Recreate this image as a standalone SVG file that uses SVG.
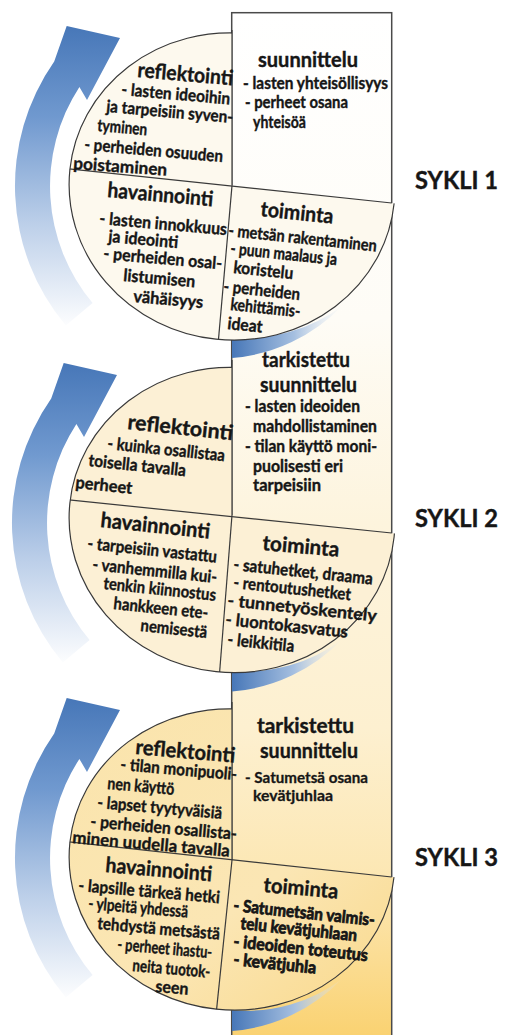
<svg xmlns="http://www.w3.org/2000/svg" width="505" height="1035" viewBox="0 0 505 1035">
<defs>
<style>
.t{font-family:Lato,"Open Sans","Liberation Sans",sans-serif;font-weight:700;fill:#161616;stroke:#161616;stroke-width:0.4}
.b{font-size:17px}
.h{font-size:21px}
.m{font-size:15.5px;stroke-width:0.3}
.s{font-size:24px;stroke-width:0.4}
.x{stroke-width:0.8}
.ol{stroke:#3a3a3a;stroke-width:1.2}
.dv{stroke:#3a3a3a;stroke-width:1.2;fill:none}
</style>
<linearGradient id="colG" gradientUnits="userSpaceOnUse" x1="0" y1="12" x2="0" y2="1035">
<stop offset="0" stop-color="#ffffff"/>
<stop offset="0.3" stop-color="#fefcf6"/>
<stop offset="0.5" stop-color="#fdf4dd"/>
<stop offset="0.7" stop-color="#fdf0d0"/>
<stop offset="0.86" stop-color="#fce6b0"/>
<stop offset="1" stop-color="#fad272"/>
</linearGradient>
<linearGradient id="arrG" gradientUnits="userSpaceOnUse" x1="0" y1="26" x2="0" y2="330">
<stop offset="0" stop-color="#4777b8"/>
<stop offset="0.3" stop-color="#7099cf"/>
<stop offset="0.65" stop-color="#bccfe9"/>
<stop offset="1" stop-color="#ffffff"/>
</linearGradient>
<linearGradient id="bandG" gradientUnits="userSpaceOnUse" x1="232" y1="0" x2="345" y2="0">
<stop offset="0" stop-color="#4777b8"/>
<stop offset="0.55" stop-color="#a5bfe0"/>
<stop offset="1" stop-color="#e6edf6" stop-opacity="0"/>
</linearGradient>
<linearGradient id="c3G" gradientUnits="userSpaceOnUse" x1="80" y1="710" x2="380" y2="1010">
<stop offset="0" stop-color="#fae4ac"/>
<stop offset="0.6" stop-color="#fbe6b4"/>
<stop offset="1" stop-color="#f9d98c"/>
</linearGradient>
<clipPath id="q1"><polygon points="0,0 232,0 232,185.6 505,215.4 505,400 0,400"/></clipPath>
<clipPath id="q2"><polygon points="0,340 232,340 232,515 505,546 505,700 0,700"/></clipPath>
<clipPath id="q3"><polygon points="0,680 232,680 232,860 505,889 505,1035 0,1035"/></clipPath>
<clipPath id="e1"><ellipse cx="232" cy="186.5" rx="163" ry="153.5" transform="rotate(6 232 186.5)"/></clipPath>
<clipPath id="e2"><ellipse cx="232" cy="520" rx="163" ry="152.5" transform="rotate(6 232 520)"/></clipPath>
<clipPath id="e3"><ellipse cx="232" cy="859.5" rx="163" ry="150.5" transform="rotate(6 232 859.5)"/></clipPath>
<path id="arrowShape" d="M 65.8 325.5 A 217 217 0 0 1 54.2 61.5 L 66.7 26 L 120 38 L 87 100 L 79.4 86.9 A 182 182 0 0 0 92.6 303 Z"/>
<path id="bandShape" d="M 232 358 A 172 172 0 0 0 342 306 A 158 158 0 0 1 232 337 Z"/>
</defs>

<rect width="505" height="1035" fill="#ffffff"/>

<g id="column">
<rect x="231.7" y="12.7" width="160" height="1030" fill="url(#colG)" stroke="#4a4a4a" stroke-width="1.5"/>
</g>

<g id="connectors">
<use href="#arrowShape" fill="url(#arrG)"/>
<use href="#arrowShape" fill="url(#arrG)" transform="translate(-3 337)"/>
<use href="#arrowShape" fill="url(#arrG)" transform="translate(0 672)"/>
<use href="#bandShape" fill="url(#bandG)"/>
<use href="#bandShape" fill="url(#bandG)" transform="translate(0 333.5)"/>
<use href="#bandShape" fill="url(#bandG)" transform="translate(0 673)"/>
</g>

<!-- CYCLE 1 -->
<g id="cycle1">
<g clip-path="url(#q1)">
<ellipse cx="232" cy="186.5" rx="163" ry="153.5" transform="rotate(6 232 186.5)" class="ol" fill="#fdf9ee"/>
</g>
<g clip-path="url(#e1)">
<line class="dv" x1="60" y1="168" x2="391.7" y2="203"/>
<line class="dv" x1="232" y1="185.6" x2="218" y2="345"/>
</g>
<line class="dv" x1="232" y1="30" x2="232" y2="185.6"/>
</g>

<g id="c1-suunnittelu" class="t">
<text class="h" x="258" y="67" textLength="100" lengthAdjust="spacingAndGlyphs">suunnittelu</text>
<text class="b" x="243" y="89" textLength="145" lengthAdjust="spacingAndGlyphs">- lasten yhteisöllisyys</text>
<text class="b" x="245" y="108" textLength="103" lengthAdjust="spacingAndGlyphs">- perheet osana</text>
<text class="b" x="253" y="128" textLength="53" lengthAdjust="spacingAndGlyphs">yhteisöä</text>
</g>
<g id="c1-reflektointi" class="t">
<text class="h" x="137" y="77" transform="rotate(5 137 77)" textLength="96" lengthAdjust="spacingAndGlyphs">reflektointi</text>
<text class="b" x="121" y="95" transform="rotate(5 121 95)" textLength="109" lengthAdjust="spacingAndGlyphs">- lasten ideoihin</text>
<text class="b" x="106" y="112" transform="rotate(5 106 112)" textLength="127" lengthAdjust="spacingAndGlyphs">ja tarpeisiin syven-</text>
<text class="b" x="97" y="131" transform="rotate(5 97 131)" textLength="50" lengthAdjust="spacingAndGlyphs">tyminen</text>
<text class="b" x="84" y="150" transform="rotate(5 84 150)" textLength="139" lengthAdjust="spacingAndGlyphs">- perheiden osuuden</text>
<text class="b" x="73" y="169" transform="rotate(4 73 169)" textLength="94" lengthAdjust="spacingAndGlyphs">poistaminen</text>
</g>
<g id="c1-havainnointi" class="t">
<text class="h" x="107" y="197" transform="rotate(5 107 197)" textLength="106" lengthAdjust="spacingAndGlyphs">havainnointi</text>
<text class="b" x="99" y="224" transform="rotate(5 99 224)" textLength="128" lengthAdjust="spacingAndGlyphs">- lasten innokkuus</text>
<text class="b" x="108" y="242" transform="rotate(5 108 242)" textLength="70" lengthAdjust="spacingAndGlyphs">ja ideointi</text>
<text class="b" x="103" y="259" transform="rotate(5 103 259)" textLength="119" lengthAdjust="spacingAndGlyphs">- perheiden osal-</text>
<text class="b" x="123" y="281" transform="rotate(5 123 281)" textLength="72" lengthAdjust="spacingAndGlyphs">listumisen</text>
<text class="b" x="133" y="302" transform="rotate(5 133 302)" textLength="70" lengthAdjust="spacingAndGlyphs">vähäisyys</text>
</g>
<g id="c1-toiminta" class="t">
<text class="h" x="260" y="216" transform="rotate(6 260 216)" textLength="73" lengthAdjust="spacingAndGlyphs">toiminta</text>
<text class="b" x="228" y="236" transform="rotate(6 228 236)" textLength="149" lengthAdjust="spacingAndGlyphs">- metsän rakentaminen</text>
<text class="b" x="230" y="254" transform="rotate(6 230 254)" textLength="107" lengthAdjust="spacingAndGlyphs">- puun maalaus ja</text>
<text class="b" x="233" y="273" transform="rotate(6 233 273)" textLength="60" lengthAdjust="spacingAndGlyphs">koristelu</text>
<text class="b" x="223" y="292" transform="rotate(6 223 292)" textLength="77" lengthAdjust="spacingAndGlyphs">- perheiden</text>
<text class="b" x="230" y="310" transform="rotate(6 230 310)" textLength="70" lengthAdjust="spacingAndGlyphs">kehittämis-</text>
<text class="b" x="227" y="329" transform="rotate(6 227 329)" textLength="35" lengthAdjust="spacingAndGlyphs">ideat</text>
</g>
<g id="label-sykli1" class="t"><text class="s" x="415" y="189" textLength="83" lengthAdjust="spacingAndGlyphs">SYKLI 1</text></g>

<!-- CYCLE 2 -->
<g id="cycle2">
<g clip-path="url(#q2)">
<ellipse cx="232" cy="520" rx="163" ry="152.5" transform="rotate(6 232 520)" class="ol" fill="#fcf0d5"/>
</g>
<g clip-path="url(#e2)">
<line class="dv" x1="60" y1="499" x2="391.7" y2="533"/>
<line class="dv" x1="232" y1="515" x2="219" y2="680"/>
</g>
<line class="dv" x1="232" y1="360" x2="232" y2="515"/>
</g>

<g id="c2-suunnittelu" class="t">
<text class="h" x="262" y="367" textLength="88" lengthAdjust="spacingAndGlyphs">tarkistettu</text>
<text class="h" x="260" y="392" textLength="97" lengthAdjust="spacingAndGlyphs">suunnittelu</text>
<text class="b" x="245" y="412" textLength="115" lengthAdjust="spacingAndGlyphs">- lasten ideoiden</text>
<text class="b" x="253" y="432" textLength="124" lengthAdjust="spacingAndGlyphs">mahdollistaminen</text>
<text class="b" x="245" y="452" textLength="132" lengthAdjust="spacingAndGlyphs">- tilan käyttö moni-</text>
<text class="b" x="253" y="472" textLength="90" lengthAdjust="spacingAndGlyphs">puolisesti eri</text>
<text class="b" x="253" y="491" textLength="68" lengthAdjust="spacingAndGlyphs">tarpeisiin</text>
</g>
<g id="c2-reflektointi" class="t">
<text class="h" x="127" y="429" transform="rotate(6 127 429)" textLength="106" lengthAdjust="spacingAndGlyphs">reflektointi</text>
<text class="b" x="107" y="449" transform="rotate(6 107 449)" textLength="118" lengthAdjust="spacingAndGlyphs">- kuinka osallistaa</text>
<text class="b" x="88" y="466" transform="rotate(6 88 466)" textLength="98" lengthAdjust="spacingAndGlyphs">toisella tavalla</text>
<text class="b" x="75" y="488" transform="rotate(6 75 488)" textLength="57" lengthAdjust="spacingAndGlyphs">perheet</text>
</g>
<g id="c2-havainnointi" class="t">
<text class="h" x="100" y="527" transform="rotate(6 100 527)" textLength="110" lengthAdjust="spacingAndGlyphs">havainnointi</text>
<text class="b" x="87" y="549" transform="rotate(6 87 549)" textLength="130" lengthAdjust="spacingAndGlyphs">- tarpeisiin vastattu</text>
<text class="b" x="92" y="570" transform="rotate(6 92 570)" textLength="125" lengthAdjust="spacingAndGlyphs">- vanhemmilla kui-</text>
<text class="b" x="103" y="589" transform="rotate(6 103 589)" textLength="113" lengthAdjust="spacingAndGlyphs">tenkin kiinnostus</text>
<text class="b" x="113" y="609" transform="rotate(6 113 609)" textLength="95" lengthAdjust="spacingAndGlyphs">hankkeen ete-</text>
<text class="b" x="140" y="631" transform="rotate(6 140 631)" textLength="67" lengthAdjust="spacingAndGlyphs">nemisestä</text>
</g>
<g id="c2-toiminta" class="t">
<text class="h" x="262" y="550" transform="rotate(5 262 550)" textLength="77" lengthAdjust="spacingAndGlyphs">toiminta</text>
<text class="b" x="233" y="570" transform="rotate(6 233 570)" textLength="140" lengthAdjust="spacingAndGlyphs">- satuhetket, draama</text>
<text class="b" x="233" y="588" transform="rotate(6 233 588)" textLength="118" lengthAdjust="spacingAndGlyphs">- rentoutushetket</text>
<text class="b" x="227" y="606" transform="rotate(6 227 606)" textLength="150" lengthAdjust="spacingAndGlyphs">- tunnetyöskentely</text>
<text class="b" x="225" y="625" transform="rotate(6 225 625)" textLength="123" lengthAdjust="spacingAndGlyphs">- luontokasvatus</text>
<text class="b" x="227" y="645" transform="rotate(6 227 645)" textLength="67" lengthAdjust="spacingAndGlyphs">- leikkitila</text>
</g>
<g id="label-sykli2" class="t"><text class="s" x="415" y="527" textLength="83" lengthAdjust="spacingAndGlyphs">SYKLI 2</text></g>

<!-- CYCLE 3 -->
<g id="cycle3">
<g clip-path="url(#q3)">
<ellipse cx="232" cy="859.5" rx="163" ry="150.5" transform="rotate(6 232 859.5)" class="ol" fill="url(#c3G)"/>
</g>
<g clip-path="url(#e3)">
<line class="dv" x1="60" y1="841" x2="391.7" y2="877"/>
<line class="dv" x1="232" y1="860" x2="216" y2="1015"/>
</g>
<line class="dv" x1="232" y1="702" x2="232" y2="860"/>
</g>

<g id="c3-suunnittelu" class="t">
<text class="h" x="257" y="733" textLength="97" lengthAdjust="spacingAndGlyphs">tarkistettu</text>
<text class="h" x="260" y="758" textLength="98" lengthAdjust="spacingAndGlyphs">suunnittelu</text>
<text class="m" x="245" y="783" textLength="123" lengthAdjust="spacingAndGlyphs">- Satumetsä osana</text>
<text class="m" x="253" y="801" textLength="80" lengthAdjust="spacingAndGlyphs">kevätjuhlaa</text>
</g>
<g id="c3-reflektointi" class="t">
<text class="h" x="135" y="754" transform="rotate(5 135 754)" textLength="100" lengthAdjust="spacingAndGlyphs">reflektointi</text>
<text class="b" x="120" y="770" transform="rotate(5 120 770)" textLength="117" lengthAdjust="spacingAndGlyphs">- tilan monipuoli-</text>
<text class="b" x="107" y="789" transform="rotate(5 107 789)" textLength="67" lengthAdjust="spacingAndGlyphs">nen käyttö</text>
<text class="b" x="97" y="808" transform="rotate(5 97 808)" textLength="125" lengthAdjust="spacingAndGlyphs">- lapset tyytyväisiä</text>
<text class="b" x="90" y="827" transform="rotate(5 90 827)" textLength="147" lengthAdjust="spacingAndGlyphs">- perheiden osallista-</text>
<text class="b" x="72" y="843" transform="rotate(5 72 843)" textLength="158" lengthAdjust="spacingAndGlyphs">minen uudella tavalla</text>
</g>
<g id="c3-havainnointi" class="t">
<text class="h" x="105" y="872" transform="rotate(5 105 872)" textLength="107" lengthAdjust="spacingAndGlyphs">havainnointi</text>
<text class="b" x="78" y="891" transform="rotate(5 78 891)" textLength="142" lengthAdjust="spacingAndGlyphs">- lapsille tärkeä hetki</text>
<text class="b" x="88" y="909" transform="rotate(5 88 909)" textLength="100" lengthAdjust="spacingAndGlyphs">- ylpeitä yhdessä</text>
<text class="b" x="97" y="929" transform="rotate(5 97 929)" textLength="123" lengthAdjust="spacingAndGlyphs">tehdystä metsästä</text>
<text class="b" x="117" y="950" transform="rotate(5 117 950)" textLength="95" lengthAdjust="spacingAndGlyphs">- perheet ihastu-</text>
<text class="b" x="132" y="971" transform="rotate(5 132 971)" textLength="78" lengthAdjust="spacingAndGlyphs">neita tuotok-</text>
<text class="b" x="155" y="992" transform="rotate(5 155 992)" textLength="33" lengthAdjust="spacingAndGlyphs">seen</text>
</g>
<g id="c3-toiminta" class="t">
<text class="h" x="263" y="892" transform="rotate(5 263 892)" textLength="75" lengthAdjust="spacingAndGlyphs">toiminta</text>
<text class="b x" x="233" y="911" transform="rotate(6 233 911)" textLength="142" lengthAdjust="spacingAndGlyphs">- Satumetsän valmis-</text>
<text class="b x" x="240" y="929" transform="rotate(6 240 929)" textLength="117" lengthAdjust="spacingAndGlyphs">telu kevätjuhlaan</text>
<text class="b x" x="233" y="947" transform="rotate(6 233 947)" textLength="135" lengthAdjust="spacingAndGlyphs">- ideoiden toteutus</text>
<text class="b x" x="233" y="965" transform="rotate(6 233 965)" textLength="83" lengthAdjust="spacingAndGlyphs">- kevätjuhla</text>
</g>
<g id="label-sykli3" class="t"><text class="s" x="415" y="866" textLength="83" lengthAdjust="spacingAndGlyphs">SYKLI 3</text></g>
</svg>
